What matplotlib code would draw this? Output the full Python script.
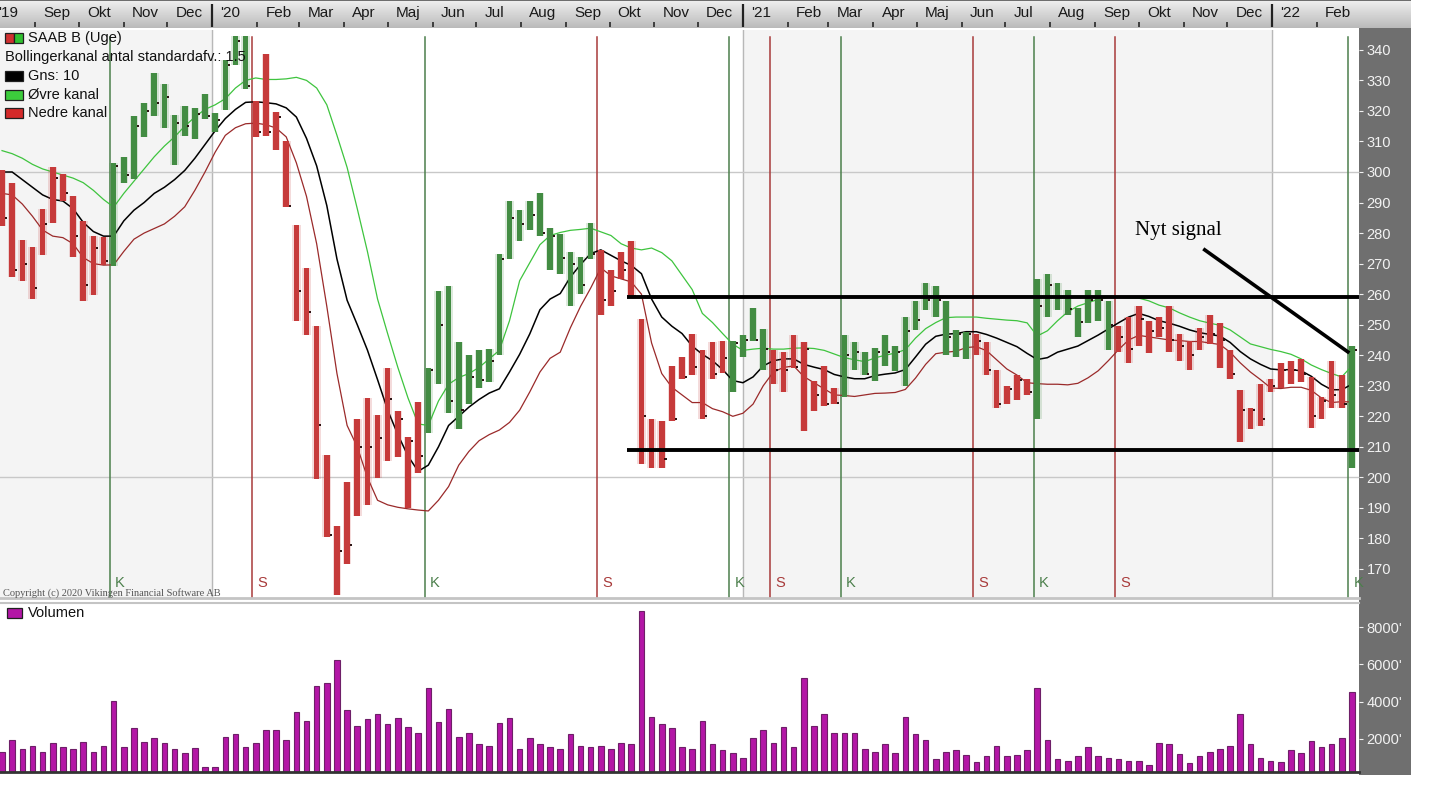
import numpy as np, pandas as pd, matplotlib
matplotlib.use("Agg")
import matplotlib.pyplot as plt
from matplotlib.patches import Rectangle
from matplotlib.colors import LinearSegmentedColormap

# SAAB B weekly bars, Aug 2019 - Feb 2022 (week 0 = 2019-08-09)
first_week = "2019-08-09"
highs = [300.6, 296.4, 277.7, 275.3, 287.8, 301.8, 299.4, 292.3, 284.0, 279.2,
         278.6, 303.0, 304.8, 318.4, 322.6, 332.3, 328.7, 318.8, 321.6, 320.8,
         325.5, 319.2, 336.6, 344.5, 344.5, 323.2, 338.6, 319.6, 310.1, 282.8,
         268.5, 249.5, 207.4, 184.2, 198.6, 219.0, 226.0, 220.4, 235.9, 221.6,
         213.2, 224.7, 235.9, 261.0, 262.6, 244.2, 240.0, 241.8, 242.0, 273.3,
         290.5, 287.5, 290.5, 293.1, 281.6, 279.8, 273.9, 272.1, 283.4, 274.5,
         267.9, 273.9, 277.4, 251.9, 219.2, 218.6, 236.5, 239.4, 247.1, 241.8,
         244.2, 244.8, 244.8, 246.6, 255.5, 248.7, 241.8, 241.2, 246.6, 244.4,
         231.7, 236.5, 229.3, 246.6, 244.4, 241.2, 242.4, 246.6, 243.0, 252.5,
         257.8, 263.8, 262.6, 257.8, 248.3, 247.7, 247.1, 244.2, 235.3, 229.9,
         233.5, 232.3, 265.0, 266.7, 263.8, 261.4, 255.5, 261.4, 261.4, 257.8,
         249.5, 252.5, 256.0, 251.3, 252.5, 256.0, 247.1, 244.8, 248.9, 253.1,
         250.7, 241.8, 228.7, 222.8, 230.5, 232.3, 237.6, 238.2, 238.8, 232.9,
         226.4, 238.2, 233.5, 243.0]
lows = [282.2, 265.6, 264.4, 258.4, 272.7, 283.4, 290.5, 272.1, 257.8, 259.6,
        269.7, 269.1, 296.4, 297.6, 311.3, 318.4, 314.3, 302.4, 311.9, 310.9,
        317.2, 313.0, 320.2, 335.0, 327.3, 311.3, 311.9, 307.1, 288.7, 251.3,
        246.6, 199.6, 180.6, 161.5, 171.5, 187.5, 191.0, 199.8, 205.3, 206.7,
        190.0, 201.4, 214.6, 230.5, 221.0, 215.7, 224.0, 229.3, 231.1, 240.0,
        271.5, 277.4, 281.0, 279.2, 267.9, 266.7, 256.0, 260.2, 271.5, 253.1,
        256.0, 265.0, 259.0, 204.4, 203.2, 203.2, 218.6, 232.3, 233.5, 219.2,
        232.3, 234.1, 228.1, 239.4, 244.8, 235.3, 230.5, 228.1, 235.9, 215.1,
        221.6, 223.4, 224.0, 226.4, 235.3, 233.5, 231.7, 236.5, 234.7, 229.9,
        248.3, 254.9, 252.5, 240.0, 239.4, 238.8, 240.0, 233.5, 222.8, 224.0,
        225.2, 227.0, 219.2, 252.5, 254.9, 253.1, 246.0, 250.7, 251.3, 241.8,
        241.2, 237.6, 243.0, 240.6, 246.0, 241.2, 238.2, 235.3, 241.8, 243.6,
        235.9, 232.3, 211.5, 215.7, 216.9, 228.1, 229.3, 230.5, 231.1, 216.3,
        219.2, 222.8, 222.8, 203.2]
closes = [285, 268, 270, 262, 283, 298, 293, 279, 263, 275,
          271, 302, 299, 315, 320, 322.5, 324.5, 316, 315, 319,
          318.5, 317, 335, 343, 328, 313, 313, 318, 289, 261,
          254, 217, 181, 176, 178, 210, 210, 213, 225.6, 219,
          212, 207, 235, 250, 225, 222, 233, 232, 238, 271.5,
          285, 283, 286, 280, 279, 272, 270, 263, 273, 258,
          261, 268, 259.5, 220, 209, 206, 219, 233, 236, 220,
          234, 239, 244, 245, 245, 242, 235, 235, 236, 242,
          227, 224, 224.5, 240, 241, 234, 241, 241, 241, 248,
          251.5, 258, 258, 246, 247, 247, 244.5, 235, 224, 229,
          232, 228, 256, 263, 259, 255, 251, 258, 258, 250,
          246, 242, 252, 248, 249, 245, 243, 240, 246, 247,
          245, 234, 222, 222, 219, 230, 235, 235, 234, 220,
          225, 227, 224, 241.8]
# Bollinger channel (Gns: 10, 1.5 std)
band_mid = [300, 300, 297.5, 295, 292.5, 291, 290.5, 288, 283.5, 280.5,
            279, 279, 284, 287.5, 290, 293, 295, 297.5, 300.5, 304.5,
            309, 313.5, 317.5, 320.5, 322.8, 323, 322.7, 322.3, 321, 318,
            311, 302, 289, 271.5, 258, 250, 241.7, 232, 222, 214,
            207, 202, 204, 210, 217, 220, 223, 225.5, 227.6, 229,
            234.5, 240.3, 247, 254.9, 258.4, 260.2, 265.6, 269.7, 273.3, 274.5,
            272.7, 270.9, 269.4, 266.7, 258.4, 252.5, 249.5, 247.1, 243, 240.3,
            238.2, 235.3, 231.7, 231, 232.9, 236.5, 238.2, 238.8, 238.8, 237,
            236.1, 235.3, 233.7, 232.9, 232.3, 232.3, 233.3, 233.8, 234.2, 235.3,
            239.4, 243.6, 246.2, 246.9, 247.1, 247.7, 247.7, 246.8, 245.6, 244.2,
            242.8, 240.6, 238.6, 239.2, 241, 242, 243, 244.8, 246.6, 248.6,
            250.6, 252.5, 253.7, 252.7, 251.3, 250.5, 249.5, 248.3, 247.4, 246.8,
            246.3, 244.2, 241.2, 238.8, 237, 235.5, 235.2, 235.3, 234.9, 233.1,
            230.5, 228.7, 228.7, 230.5]
band_up = [307, 306, 304.5, 302.5, 301, 300, 299, 298, 296.5, 294,
           291, 288.5, 293, 297, 301, 305, 308.5, 311.5, 315, 318,
           320.5, 322, 324, 327.5, 330, 330.8, 330.3, 330.3, 330.5, 331,
           330, 327.5, 322, 312, 301.5, 288, 274, 258.4, 247, 236,
           226, 217.5, 217, 225, 230.5, 232.7, 234, 236, 238.8, 241.6,
           251.3, 264.4, 270.3, 276.2, 279.2, 280.2, 280.9, 281.2, 281.6, 280.4,
           279.2, 276.5, 275.1, 274.5, 275.1, 273.6, 270.9, 266.2, 261.5, 253.7,
           250.7, 247.1, 243.6, 241.6, 242, 242.3, 242, 242, 242.3, 242.4,
           242.2, 241.6, 240.4, 239.2, 238.5, 237.9, 239.1, 240, 240.7, 241.8,
           245.6, 248.7, 250.7, 252.3, 252.5, 252.5, 252.5, 252.1, 251.8, 251.5,
           251.3, 250.6, 246.3, 248, 251.3, 254.2, 256.1, 257.2, 258.3, 259,
           259, 258.8, 258.7, 257.8, 256.4, 255.5, 253.9, 252.5, 251.3, 250.5,
           249.8, 248.3, 246, 243.7, 242.8, 241.9, 241.2, 240.3, 238.8, 236.8,
           235.3, 234, 232.9, 236.5]
band_lo = [293, 292.5, 289.5, 285.5, 281, 279, 278.5, 276.5, 272, 270,
           269.5, 269.6, 274, 278, 280, 281.5, 283, 285.5, 288.6, 294,
           300, 306.5, 312, 314.5, 315.8, 316, 315.5, 314.4, 311.5, 303,
           292, 276.5, 256, 234, 217, 210, 200, 192.5, 191, 190.2,
           189.7, 189.3, 189, 192.5, 197, 204, 208.5, 212, 214, 215.5,
           218, 222, 228, 234.5, 239, 241, 249, 256, 262, 268.6,
           266, 265, 264, 260, 244, 234, 229.5, 227, 224.5, 224.5,
           222.5, 221.5, 220, 221, 224, 230, 234.5, 236, 236.5, 233,
           231, 229, 227, 226.8, 226.5, 227, 227.5, 227.6, 227.8, 228.8,
           232.5, 237, 240.5, 241, 241.3, 242.5, 242.8, 241.5, 238.5, 235.5,
           233.5, 231, 230.7, 230.5, 230.5, 230.3, 230.8, 232.6, 234.9, 238.2,
           241.8, 245, 246.5, 246, 245.5, 245, 244.8, 244.5, 244.5, 244,
           243.5, 241, 237.5, 234.5, 232, 229.3, 229.1, 229.5, 229.5, 228.5,
           226, 224.5, 224.8, 224.7]
# weekly volume (thousands of shares)
volume = [1320, 1946, 1464, 1643, 1320, 1802, 1553, 1464, 1857, 1320,
          1625, 4037, 1553, 2572, 1857, 2036, 1802, 1464, 1232, 1500,
          520, 520, 2090, 2268, 1553, 1802, 2483, 2483, 1946, 3429,
          2965, 4841, 4984, 6235, 3554, 2715, 3054, 3340, 2804, 3108,
          2625, 2340, 4752, 2894, 3590, 2090, 2340, 1714, 1625, 2876,
          3108, 1464, 2036, 1714, 1553, 1464, 2251, 1625, 1553, 1625,
          1464, 1802, 1714, 8861, 3161, 2804, 2572, 1553, 1464, 2965,
          1714, 1410, 1232, 1000, 2036, 2483, 1802, 2625, 1553, 5287,
          2715, 3340, 2340, 2340, 2340, 1464, 1320, 1714, 1232, 3161,
          2251, 1946, 929, 1320, 1410, 1143, 786, 1089, 1625, 1089,
          1143, 1410, 4752, 1946, 929, 840, 1089, 1553, 1089, 1000,
          929, 840, 840, 608, 1802, 1714, 1178, 697, 1089, 1320,
          1464, 1620, 3340, 1714, 1000, 840, 786, 1410, 1267, 1892,
          1553, 1714, 2036, 4502]
# K = koeb (buy), S = saelg (sell): week index where the signal starts
signal_weeks = [11, 25, 42, 59, 72, 76, 83, 96, 102, 110, 133]
signal_kind = ["K", "S", "K", "S", "K", "S", "K", "S", "K", "S", "K"]
support_levels = [259, 209]
support_from = 61.6
note_text = "Nyt signal"
note_line_w = [118.5, 132.6]
note_line_p = [274.5, 241.1]

MONTHS = {2: "Feb", 3: "Mar", 4: "Apr", 5: "Maj", 6: "Jun", 7: "Jul", 8: "Aug",
          9: "Sep", 10: "Okt", 11: "Nov", 12: "Dec"}
RED, GREEN = "#c63a3a", "#438c43"

n = len(highs)
wk = np.arange(n)
t0 = pd.Timestamp(first_week)
def week_of(d):
    return (pd.Timestamp(d) - t0).days / 7

# colour of each bar follows the last signal
state = ["S"] * n
for s, k in zip(signal_weeks, signal_kind):
    for i in range(s, n):
        state[i] = k
bar_col = [GREEN if s == "K" else RED for s in state]

W, H = 1440, 809
def box(x0, y0, x1, y1):
    return [x0 / W, 1 - y1 / H, (x1 - x0) / W, (y1 - y0) / H]

X0, X1 = -0.2, 133.7
fig = plt.figure(figsize=(W / 100, H / 100), dpi=100)
fig.patch.set_facecolor("white")

# dark value-axis strip on the right
axr = fig.add_axes(box(1359, 28, 1411, 775))
axr.set_facecolor("#6f6f6f"); axr.set_xticks([]); axr.set_yticks([])
for s in axr.spines.values():
    s.set_visible(False)

# month strip at the top
axt = fig.add_axes(box(0, 0, 1411, 28))
xr = X0 + (X1 - X0) * 1411 / 1359
cm = LinearSegmentedColormap.from_list("g", ["#f0f0f0", "#bababa"])
axt.imshow(np.linspace(0, 1, 50)[:, None], cmap=cm, aspect="auto",
           extent=[X0, xr, 0, 1], origin="upper")
axt.set_xlim(X0, xr); axt.set_ylim(0, 1)
axt.set_xticks([]); axt.set_yticks([])
for s in axt.spines.values():
    s.set_visible(False)
axt.axhline(0.99, color="#555555", lw=1.2)
for d in pd.date_range("2019-09-01", "2022-02-01", freq="MS"):
    p = week_of(d)
    if d.month == 1:
        axt.vlines(p, 0.02, 0.85, color="#222222", lw=1.6)
        lab = "'" + str(d.year)[2:]
    else:
        axt.vlines(p, 0.02, 0.2, color="#333333", lw=1.3)
        lab = MONTHS[d.month]
    axt.text(p + 0.8, 0.55, lab, ha="left", va="center", fontsize=11,
             family="Liberation Sans", color="#1a1a1a")
axt.text(1.6, 0.55, "'19", ha="right", va="center", fontsize=11,
         family="Liberation Sans", color="#1a1a1a")

# price panel
ax = fig.add_axes(box(0, 30, 1359, 598))
ax.set_xlim(X0, X1); ax.set_ylim(160.5, 346.5)
ax.axvspan(X0, week_of("2020-01-01"), color="#f4f4f4", zorder=0)
ax.axvspan(week_of("2021-01-01"), week_of("2022-01-01"), color="#f4f4f4", zorder=0)
for y in ["2020-01-01", "2021-01-01", "2022-01-01"]:
    ax.axvline(week_of(y), color="#b8b8b8", lw=1, zorder=1)
for lv in (300, 200):
    ax.axhline(lv, color="#c8c8c8", lw=1, zorder=1)

for s, k in zip(signal_weeks, signal_kind):
    c = "#4b7f4b" if k == "K" else "#a83a3a"
    ax.axvline(s - 0.35, ymin=0, ymax=0.988, color=c, lw=1.1, zorder=2)
    ax.text(s + 0.15, 165.5, k, color=c, fontsize=10.5, family="Liberation Sans",
            ha="left", va="center", zorder=2)

ax.plot(wk, band_up, color="#3ec43e", lw=0.9, zorder=3)
ax.plot(wk, band_lo, color="#9a2a2a", lw=0.9, zorder=3)
ax.plot(wk, band_mid, color="black", lw=1.1, zorder=3)

hi, lo = np.array(highs), np.array(lows)
ax.bar(wk, hi - lo, bottom=lo, width=0.85, color=bar_col, alpha=0.18,
       zorder=4, lw=0)
ax.bar(wk, hi - lo, bottom=lo, width=0.55, color=bar_col, zorder=4)
ax.hlines(closes, wk + 0.27, wk + 0.47, color="#2a1010", lw=1.4, zorder=4)

ax.hlines(support_levels, support_from, X1, color="black", lw=2.8, zorder=5)
ax.plot(note_line_w, note_line_p, color="black", lw=2.6, zorder=5)
ax.text(115.9, 281, note_text, family="Liberation Serif", fontsize=15,
        ha="center", va="center")

ax.yaxis.tick_right()
ax.set_yticks(range(170, 341, 10))
ax.tick_params(axis="y", colors="#f2f2f2", labelsize=10.5, length=3, pad=2.5)
for lab in ax.get_yticklabels():
    lab.set_family("Liberation Sans")
ax.set_xticks([])
for k, s in ax.spines.items():
    s.set_visible(k == "bottom")
ax.spines["bottom"].set_color("#c4c4c4"); ax.spines["bottom"].set_linewidth(2)

ax.text(0.002, 0.0, "Copyright (c) 2020 Vikingen Financial Software AB",
        transform=ax.transAxes, family="Liberation Serif", fontsize=7.5,
        color="#555555", ha="left", va="bottom")

# legend rows
def legend_box(x, y, w, c):
    fig.add_artist(Rectangle((x / W, 1 - (y + 5) / H), w / W, 10 / H,
                             transform=fig.transFigure, facecolor=c,
                             edgecolor="#202020", lw=0.9))
def legend_txt(x, y, s):
    fig.text(x / W, 1 - y / H, s, ha="left", va="center", fontsize=10.5,
             family="Liberation Sans", color="#111111")
legend_box(5, 38, 9, "#d03030"); legend_box(14, 38, 9, "#30c030")
legend_txt(28, 38, "SAAB B (Uge)")
legend_txt(5, 57, "Bollingerkanal antal standardafv.: 1.5")
legend_box(5, 76, 18, "black"); legend_txt(28, 76, "Gns: 10")
legend_box(5, 95, 18, "#3ccc3c"); legend_txt(28, 95, "Øvre kanal")
legend_box(5, 113, 18, "#d42a2a"); legend_txt(28, 113, "Nedre kanal")

# volume panel
axv = fig.add_axes(box(0, 603, 1359, 772))
axv.set_xlim(X0, X1); axv.set_ylim(230, 9290)
axv.bar(wk, volume, width=0.55, color="#b316a6", edgecolor="#6e1f68", lw=0.8)
axv.yaxis.tick_right()
axv.set_yticks([2000, 4000, 6000, 8000])
axv.set_yticklabels(["2000'", "4000'", "6000'", "8000'"])
axv.tick_params(axis="y", colors="#f2f2f2", labelsize=10.5, length=3, pad=2.5)
for lab in axv.get_yticklabels():
    lab.set_family("Liberation Sans")
axv.set_xticks([])
for k, s in axv.spines.items():
    s.set_visible(k in ("bottom", "top"))
axv.spines["bottom"].set_color("#333333"); axv.spines["bottom"].set_linewidth(2)
axv.spines["top"].set_color("#c4c4c4"); axv.spines["top"].set_linewidth(1.5)
legend_box(7, 613, 15, "#b316a6")
legend_txt(28, 613, "Volumen")

fig.savefig("out.png", dpi=100)
